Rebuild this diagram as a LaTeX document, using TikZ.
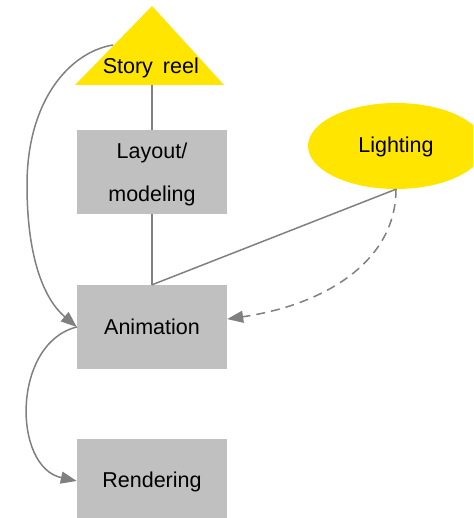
\documentclass[tikz,border=0pt]{standalone}
\usepackage{fontspec}
\setmainfont{Liberation Sans}
\usetikzlibrary{arrows.meta,shapes.geometric}
\definecolor{reelyellow}{HTML}{FFE500}
\definecolor{boxgray}{HTML}{C0C0C0}
\definecolor{linkgray}{HTML}{808080}
\begin{document}
\begin{tikzpicture}[x=1pt,y=-1pt,
  every node/.style={font=\fontsize{21.5}{43}\selectfont, text=black},
  stagebox/.style={rectangle, fill=boxgray, minimum width=150pt,
    minimum height=84pt, inner sep=0pt, align=center},
  lightblob/.style={ellipse, fill=reelyellow, minimum width=176pt,
    minimum height=86pt, inner sep=0pt},
  link/.style={draw=linkgray, line width=1.5pt},
  flow/.style={link, -{Triangle[length=16pt,width=12pt]}},
  hint/.style={flow, dash pattern=on 9pt off 6pt}]
\useasboundingbox (0,0) rectangle (473,518);
\clip (0,0) rectangle (473,518);

% story reel triangle
\coordinate (reeltop) at (152,6);
\coordinate (reelleft) at (75,85);
\coordinate (reelright) at (224,85);
\coordinate (reelbase) at (152,85);
\coordinate (reelside) at (113,45);
\fill[reelyellow] (reeltop) -- (reelright) -- (reelleft) -- cycle;
\node (story) at (150.8,68) {Story\hspace{4pt} reel};

% stages
\node[stagebox, text depth=0pt] (layout) at (152,172) {Layout/\\modeling};
\node[stagebox] (anim) at (152,327) {Animation};
\node[stagebox, text depth=3pt] (rend) at (152,481) {Rendering};
\node[lightblob, text depth=2pt] (light) at (396,146) {Lighting};

% plain links
\draw[link] (reelbase) -- (layout.north);
\draw[link] (layout.south) -- (anim.north);
\draw[link] (light.south) -- (anim.north);

% curved flows
\coordinate (loopmid) at (27,185);
\draw[flow] (reelside) .. controls (70,52) and (27,100) .. (loopmid)
  .. controls (27,260) and (45,300) .. (anim.west);
\draw[flow] (anim.west) .. controls (12,343) and (12,467) .. (rend.west);
\draw[hint] (light.south) .. controls (396,259) and (329,304) .. (anim.6);
\end{tikzpicture}
\end{document}
